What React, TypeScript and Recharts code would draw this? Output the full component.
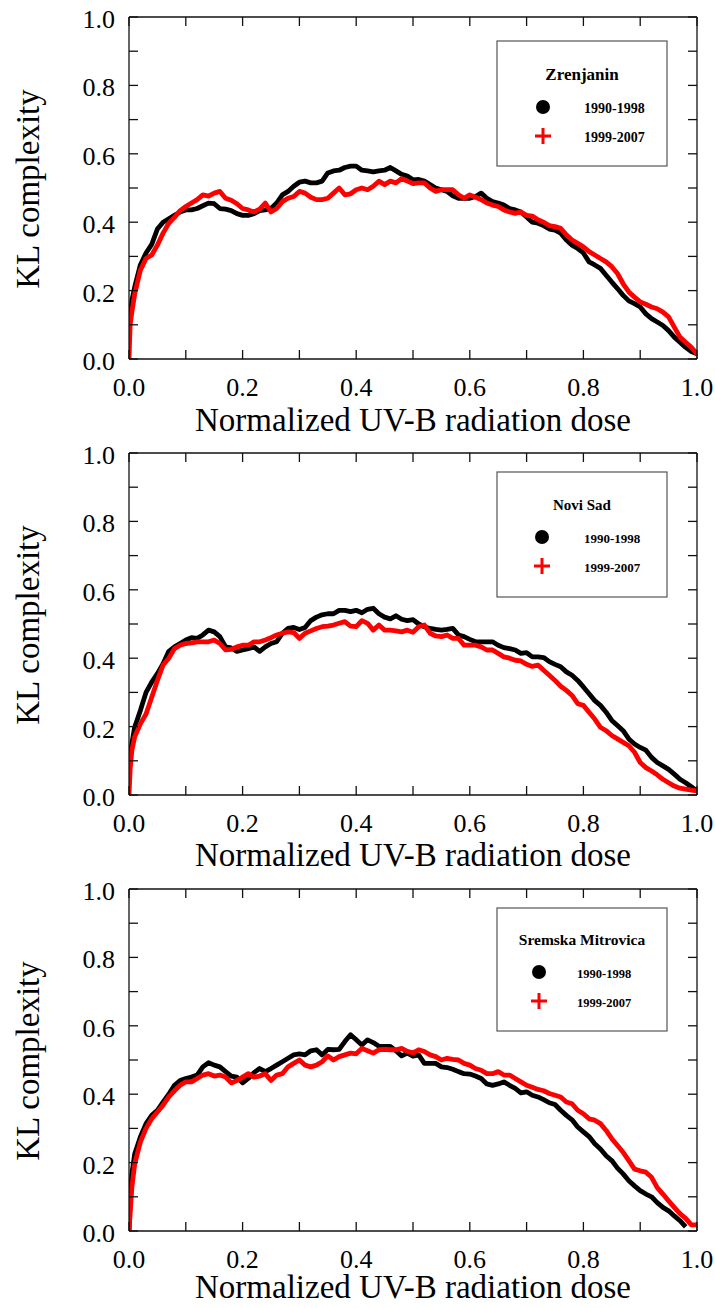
import { LineChart, Line, XAxis, YAxis } from 'recharts';

const SERIF = '"Liberation Serif", "Times New Roman", serif';

// normalized UV-B dose (shared x grid of all panels)
const DOSE = [
  0, 0.002, 0.005, 0.01, 0.02, 0.03, 0.04, 0.05, 0.06, 0.07, 0.08, 0.09,
  0.1, 0.11, 0.12, 0.13, 0.14, 0.15, 0.16, 0.17, 0.18, 0.19,
  0.2, 0.21, 0.22, 0.23, 0.24, 0.25, 0.26, 0.27, 0.28, 0.29,
  0.3, 0.31, 0.32, 0.33, 0.34, 0.35, 0.36, 0.37, 0.38, 0.39,
  0.4, 0.41, 0.42, 0.43, 0.44, 0.45, 0.46, 0.47, 0.48, 0.49,
  0.5, 0.51, 0.52, 0.53, 0.54, 0.55, 0.56, 0.57, 0.58, 0.59,
  0.6, 0.61, 0.62, 0.63, 0.64, 0.65, 0.66, 0.67, 0.68, 0.69,
  0.7, 0.71, 0.72, 0.73, 0.74, 0.75, 0.76, 0.77, 0.78, 0.79,
  0.8, 0.81, 0.82, 0.83, 0.84, 0.85, 0.86, 0.87, 0.88, 0.89,
  0.9, 0.91, 0.92, 0.93, 0.94, 0.95, 0.96, 0.97, 0.98, 0.99, 1.0,
];

const ZR_1990 = [
  0.065, 0.12, 0.17, 0.21, 0.275, 0.31, 0.335, 0.38, 0.40, 0.41, 0.42, 0.43,
  0.436, 0.436, 0.44, 0.448, 0.456, 0.454, 0.44, 0.438, 0.434, 0.425,
  0.42, 0.42, 0.425, 0.434, 0.436, 0.44, 0.456, 0.48, 0.49, 0.505,
  0.517, 0.52, 0.515, 0.515, 0.52, 0.544, 0.55, 0.552, 0.56, 0.564,
  0.564, 0.552, 0.55, 0.547, 0.55, 0.552, 0.56, 0.55, 0.54, 0.535,
  0.524, 0.525, 0.52, 0.51, 0.50, 0.495, 0.49, 0.477, 0.47, 0.47,
  0.47, 0.475, 0.485, 0.47, 0.46, 0.456, 0.45, 0.44, 0.436, 0.43,
  0.415, 0.40, 0.397, 0.39, 0.38, 0.377, 0.368, 0.348, 0.333, 0.323,
  0.31, 0.284, 0.275, 0.265, 0.245, 0.225, 0.206, 0.186, 0.17, 0.162,
  0.152, 0.132, 0.118, 0.108, 0.098, 0.083, 0.064, 0.049, 0.034, 0.022, 0.015,
];

const ZR_1999 = [
  0.0, 0.10, 0.137, 0.19, 0.26, 0.294, 0.304, 0.333, 0.368, 0.397, 0.414, 0.434,
  0.446, 0.456, 0.466, 0.48, 0.476, 0.485, 0.49, 0.47, 0.464, 0.454,
  0.44, 0.436, 0.43, 0.438, 0.456, 0.43, 0.44, 0.46, 0.47, 0.475,
  0.49, 0.485, 0.473, 0.466, 0.466, 0.47, 0.485, 0.50, 0.48, 0.483,
  0.495, 0.50, 0.495, 0.505, 0.52, 0.51, 0.52, 0.515, 0.527, 0.52,
  0.513, 0.515, 0.515, 0.50, 0.49, 0.495, 0.495, 0.495, 0.48, 0.47,
  0.48, 0.473, 0.466, 0.456, 0.45, 0.446, 0.436, 0.43, 0.426, 0.43,
  0.42, 0.418, 0.407, 0.40, 0.39, 0.387, 0.382, 0.363, 0.348, 0.338,
  0.328, 0.314, 0.304, 0.294, 0.284, 0.27, 0.25, 0.22, 0.196, 0.181,
  0.167, 0.16, 0.152, 0.147, 0.137, 0.123, 0.093, 0.064, 0.049, 0.034, 0.015,
];

const NS_1990 = [
  0.07, 0.12, 0.15, 0.198, 0.247, 0.30, 0.33, 0.355, 0.384, 0.42, 0.433, 0.443,
  0.453, 0.46, 0.458, 0.468, 0.482, 0.477, 0.463, 0.433, 0.43, 0.42,
  0.424, 0.428, 0.433, 0.42, 0.433, 0.443, 0.448, 0.473, 0.487, 0.49,
  0.484, 0.49, 0.51, 0.52, 0.527, 0.53, 0.53, 0.54, 0.54, 0.536,
  0.54, 0.533, 0.543, 0.546, 0.53, 0.52, 0.515, 0.524, 0.514, 0.51,
  0.513, 0.50, 0.492, 0.487, 0.484, 0.482, 0.484, 0.487, 0.468, 0.463,
  0.455, 0.448, 0.448, 0.448, 0.448, 0.438, 0.431, 0.428, 0.424, 0.414,
  0.416, 0.404, 0.404, 0.402, 0.39, 0.382, 0.375, 0.36, 0.35, 0.335,
  0.316, 0.296, 0.276, 0.262, 0.242, 0.218, 0.203, 0.188, 0.164, 0.149,
  0.139, 0.131, 0.11, 0.095, 0.085, 0.075, 0.061, 0.046, 0.036, 0.024, 0.012,
];

const NS_1999 = [
  0.0, 0.075, 0.13, 0.17, 0.208, 0.237, 0.286, 0.335, 0.38, 0.40, 0.428, 0.438,
  0.443, 0.445, 0.448, 0.448, 0.448, 0.453, 0.443, 0.424, 0.426, 0.433,
  0.438, 0.438, 0.448, 0.448, 0.453, 0.46, 0.468, 0.473, 0.477, 0.475,
  0.458, 0.473, 0.48, 0.487, 0.492, 0.494, 0.497, 0.502, 0.507, 0.494,
  0.492, 0.51, 0.502, 0.482, 0.497, 0.482, 0.482, 0.48, 0.477, 0.482,
  0.476, 0.492, 0.497, 0.473, 0.465, 0.463, 0.468, 0.458, 0.458, 0.438,
  0.438, 0.438, 0.433, 0.424, 0.424, 0.414, 0.404, 0.40, 0.394, 0.392,
  0.382, 0.376, 0.38, 0.365, 0.35, 0.335, 0.318, 0.306, 0.291, 0.267,
  0.262, 0.242, 0.222, 0.198, 0.188, 0.174, 0.164, 0.154, 0.144, 0.125,
  0.095, 0.08, 0.07, 0.059, 0.046, 0.036, 0.026, 0.02, 0.017, 0.014, 0.012,
];

const SM_1990 = [
  0.0, 0.09, 0.167, 0.225, 0.275, 0.314, 0.338, 0.353, 0.377, 0.40, 0.426, 0.44,
  0.446, 0.45, 0.456, 0.48, 0.492, 0.485, 0.48, 0.466, 0.453, 0.45,
  0.433, 0.446, 0.463, 0.475, 0.466, 0.475, 0.485, 0.495, 0.505, 0.515,
  0.518, 0.515, 0.527, 0.53, 0.515, 0.531, 0.53, 0.531, 0.554, 0.574,
  0.559, 0.544, 0.559, 0.551, 0.54, 0.54, 0.54, 0.527, 0.512, 0.52,
  0.511, 0.515, 0.49, 0.49, 0.49, 0.48, 0.478, 0.473, 0.466, 0.46,
  0.459, 0.453, 0.446, 0.43, 0.426, 0.43, 0.436, 0.426, 0.417, 0.404,
  0.407, 0.397, 0.392, 0.384, 0.375, 0.37, 0.353, 0.338, 0.325, 0.304,
  0.29, 0.276, 0.255, 0.24, 0.22, 0.206, 0.184, 0.167, 0.147, 0.132,
  0.118, 0.108, 0.10, 0.083, 0.069, 0.059, 0.044, 0.03, 0.012, null, null,
];

const SM_1999 = [
  0.0, 0.05, 0.127, 0.196, 0.26, 0.30, 0.328, 0.348, 0.368, 0.392, 0.41, 0.426,
  0.436, 0.436, 0.446, 0.456, 0.46, 0.453, 0.456, 0.45, 0.433, 0.44,
  0.45, 0.46, 0.45, 0.453, 0.46, 0.44, 0.456, 0.46, 0.48, 0.49,
  0.50, 0.485, 0.48, 0.485, 0.495, 0.512, 0.50, 0.51, 0.515, 0.52,
  0.518, 0.534, 0.527, 0.52, 0.53, 0.531, 0.53, 0.53, 0.534, 0.525,
  0.521, 0.53, 0.525, 0.515, 0.51, 0.50, 0.505, 0.502, 0.50, 0.49,
  0.485, 0.475, 0.47, 0.46, 0.46, 0.466, 0.456, 0.456, 0.446, 0.436,
  0.426, 0.42, 0.414, 0.41, 0.402, 0.397, 0.392, 0.377, 0.372, 0.353,
  0.343, 0.328, 0.324, 0.314, 0.294, 0.27, 0.25, 0.23, 0.206, 0.181,
  0.176, 0.172, 0.157, 0.127, 0.108, 0.088, 0.069, 0.051, 0.037, 0.018, 0.018,
];

const TICKS = [0, 0.1, 0.2, 0.3, 0.4, 0.5, 0.6, 0.7, 0.8, 0.9, 1.0];
const SERIES_NAMES = ['1990-1998', '1999-2007'];

const PANELS = [
  { station: 'Zrenjanin', early: ZR_1990, late: ZR_1999, legendTop: 41, boxH: 125, titleSize: 17, yearSize: 14, markX: 46, textX: 87, titleY: 39, xTitleY: 431 },
  { station: 'Novi Sad', early: NS_1990, late: NS_1999, legendTop: 36, boxH: 125, titleSize: 15, yearSize: 13, markX: 45, textX: 87, titleY: 38, xTitleY: 430 },
  { station: 'Sremska Mitrovica', early: SM_1990, late: SM_1999, legendTop: 36, boxH: 123, titleSize: 15.5, yearSize: 12.5, markX: 42, textX: 80, titleY: 37, xTitleY: 426 },
];

const fmt = (v: number) => (Math.round(v * 10) % 2 === 0 ? v.toFixed(1) : '');
const axisLine = { stroke: '#111', strokeWidth: 1.3 };
const tickLine = { stroke: '#111', strokeWidth: 1.3 };

const XTick = (props: any) => (
  <text x={props.x} y={props.y} dy="0.71em" textAnchor="middle" fontSize={26} fontFamily={SERIF} fill="#000">
    {fmt(props.payload.value)}
  </text>
);

const YTick = (props: any) => (
  <text x={props.x} y={props.y} dy="0.42em" textAnchor="end" fontSize={26} fontFamily={SERIF} fill="#000">
    {fmt(props.payload.value)}
  </text>
);

function Legend({ p }: { p: (typeof PANELS)[number] }) {
  const s = p.yearSize;
  return (
    <g transform={`translate(497, ${p.legendTop})`} fontFamily={SERIF} fontWeight="bold">
      <rect x={0} y={0} width={170} height={p.boxH} fill="#fff" stroke="#555" strokeWidth={1.2} />
      <text x={85} y={p.titleY} textAnchor="middle" fontSize={p.titleSize} fill="#000">{p.station}</text>
      <circle cx={p.markX} cy={p.titleY + 27} r={7} fill="#000" />
      <text x={p.textX} y={p.titleY + 33} fontSize={s} fill="#000">{SERIES_NAMES[0]}</text>
      <line x1={p.markX - 8} x2={p.markX + 8} y1={p.titleY + 56} y2={p.titleY + 56} stroke="#ff0000" strokeWidth={3} />
      <line x1={p.markX} x2={p.markX} y1={p.titleY + 48} y2={p.titleY + 64} stroke="#ff0000" strokeWidth={3} />
      <text x={p.textX} y={p.titleY + 62} fontSize={s} fill="#000">{SERIES_NAMES[1]}</text>
    </g>
  );
}

function Panel({ p, top }: { p: (typeof PANELS)[number]; top: number }) {
  const rows = DOSE.map((x, i) => ({ x, early: p.early[i], late: p.late[i] }));
  return (
    <div style={{ position: 'absolute', left: 0, top }}>
      <LineChart width={715} height={450} data={rows} margin={{ top: 16, right: 17, bottom: 90, left: 128 }}>
        <XAxis xAxisId="b" type="number" dataKey="x" domain={[0, 1]} ticks={TICKS} interval={0}
          tickSize={-9} tickMargin={28} height={1} axisLine={axisLine} tickLine={tickLine} tick={XTick} allowDataOverflow />
        <XAxis xAxisId="t" orientation="top" type="number" dataKey="x" domain={[0, 1]} ticks={TICKS} interval={0}
          tickFormatter={() => ''} tickSize={-9} height={1} axisLine={axisLine} tickLine={tickLine} allowDataOverflow />
        <YAxis yAxisId="l" type="number" domain={[0, 1]} ticks={TICKS} interval={0} width={1}
          tickSize={-9} tickMargin={23} axisLine={axisLine} tickLine={tickLine} tick={YTick} allowDataOverflow />
        <YAxis yAxisId="r" orientation="right" type="number" domain={[0, 1]} ticks={TICKS} interval={0} width={1}
          tickFormatter={() => ''} tickSize={-9} axisLine={axisLine} tickLine={tickLine} allowDataOverflow />
        <Line xAxisId="b" yAxisId="l" type="linear" dataKey="early" name={SERIES_NAMES[0]} stroke="#000" strokeWidth={4.8}
          dot={false} strokeLinejoin="round" isAnimationActive={false} />
        <Line xAxisId="b" yAxisId="l" type="linear" dataKey="late" name={SERIES_NAMES[1]} stroke="#ff0000" strokeWidth={4.8}
          dot={false} strokeLinejoin="round" isAnimationActive={false} />
        <text x={39} y={189} transform="rotate(-90 39 189)" textAnchor="middle" fontSize={33} fontFamily={SERIF} fill="#000">
          KL complexity
        </text>
        <text x={413} y={p.xTitleY} textAnchor="middle" fontSize={33} fontFamily={SERIF} fill="#000">
          Normalized UV-B radiation dose
        </text>
        <Legend p={p} />
      </LineChart>
    </div>
  );
}

export default function App() {
  return (
    <div style={{ position: 'absolute', left: 0, top: 0, width: 715, height: 1308, overflow: 'hidden', background: '#fff', fontFamily: SERIF }}>
      {PANELS.map((p, i) => (
        <Panel key={p.station} p={p} top={i * 436} />
      ))}
    </div>
  );
}
